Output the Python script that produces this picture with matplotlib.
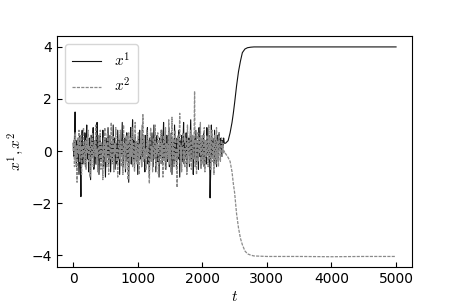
import numpy as np
import matplotlib
matplotlib.use("Agg")
import matplotlib.pyplot as plt

plt.rcParams["mathtext.fontset"] = "cm"

# noisy phase, sampled every 10 time units from 0 to 2340
t_noise = np.arange(0, 2350, 10)
x1_noise = [0.3, -0.2, 0.5, 1.5, 0.1, -0.6, 0.4, -0.3, 0.2, -0.9,
            0.6, -0.4, -1.75, 0.3, 0.8, -0.5, 0.2, -0.1, 0.7, -0.6,
            0.4, 1.0, -0.3, 0.1, -0.8, 0.5, 0.2, -1.1, 0.6, -0.2,
            0.3, 0.9, -0.7, 0.1, 0.4, -0.5, 0.2, 1.1, -0.3, 0.5,
            -0.9, 0.2, 0.6, -0.4, 0.3, -0.1, 0.8, -0.6, 0.4, 0.1,
            -1.0, 0.5, 0.3, -0.2, 0.9, -0.5, 0.1, 0.6, -0.8, 0.3,
            0.2, -0.4, 1.0, -0.1, 0.5, -0.7, 0.3, 0.1, -0.5, 0.8,
            -0.3, 0.4, -0.9, 0.6, 0.2, -0.2, 1.1, -0.6, 0.3, 0.0,
            0.5, -0.8, 0.2, 0.7, -0.4, 0.3, -1.2, 0.4, 0.1, 0.9,
            -0.5, 0.2, 1.2, -0.3, 0.4, -0.7, 0.6, 0.1, -0.4, 0.3,
            -0.9, 0.5, 0.2, 0.8, -0.3, 0.1, -0.6, 1.0, -0.2, 0.4,
            0.1, -0.8, 0.6, -0.1, 0.3, 0.9, -0.5, 0.2, -1.0, 0.5,
            0.3, -0.3, 0.7, 0.1, -0.6, 1.0, -0.2, 0.4, -0.8, 0.2,
            0.6, -0.4, 0.1, -1.0, 0.5, 0.3, -0.2, 0.8, -0.5, 0.2,
            1.1, -0.3, 0.4, -0.7, 0.2, 0.6, -0.4, 0.1, 0.9, -0.6,
            0.3, -0.2, 0.7, -0.9, 0.4, 0.1, -0.5, 1.0, -0.1, 0.3,
            -0.7, 0.5, 0.2, -0.3, 0.8, -1.0, 0.4, 0.1, 0.6, -0.4,
            0.2, 1.1, -0.5, 0.3, -0.2, 0.7, -0.8, 0.4, 0.0, 0.5,
            -0.6, 0.3, 1.2, -0.4, 0.2, 0.6, -0.9, 0.1, 0.5, -0.3,
            0.8, -0.5, 0.2, 0.4, -0.7, 0.9, -0.2, 0.3, -0.6, 0.1,
            0.5, -0.3, 0.7, -0.6, 0.2, 0.4, -0.5, 0.9, -0.1, 0.3,
            -0.4, 0.6, -1.8, -0.7, 1.0, -0.2, 0.5, 0.2, -0.5, 0.8,
            -0.3, 0.4, -0.6, 0.6, 0.2, -0.4, 0.7, 0.3, 0.1, 0.5,
            -0.2, 0.4, 0.2, 0.5, 0.3]
x2_noise = [0.0, 0.4, -0.6, 0.7, -0.3, 0.2, -1.2, 0.5, -0.1, 0.8,
            -0.4, 0.3, 0.6, -0.9, 0.2, -0.2, 0.9, -0.5, 0.1, 0.4,
            -0.7, 0.5, -0.1, 0.8, -0.4, 0.2, -1.0, 0.6, 0.3, -0.3,
            0.7, -0.6, 0.2, 0.4, -0.2, 1.0, -0.5, 0.1, -0.8, 0.6,
            0.2, -0.3, 0.8, -0.7, 0.3, 0.1, -1.1, 0.5, -0.2, 0.9,
            -0.4, 0.3, -0.6, 0.7, 0.0, -0.9, 0.5, 0.2, -0.3, 1.1,
            -0.5, 0.2, 0.6, -0.8, 0.3, -0.1, 0.9, -0.4, 0.1, -1.0,
            0.5, 0.2, -0.3, 0.8, -0.6, 0.4, 0.1, -0.9, 1.0, -0.2,
            0.3, -0.7, 0.6, -0.1, 0.4, -1.1, 0.7, 0.2, -0.4, 0.5,
            -0.2, 0.9, -0.6, 0.3, 0.1, -0.8, 1.1, -0.3, 0.4, -0.5,
            0.2, 0.7, -0.9, 0.3, -0.2, 0.5, -0.6, 0.2, 1.4, -0.4,
            0.6, -0.3, 0.1, -0.7, 0.8, -0.2, 0.4, -0.5, -1.25, 0.3,
            0.9, -0.4, 0.2, -0.8, 0.5, 0.1, -0.3, 1.0, -0.6, 0.3,
            -0.1, 0.7, -0.9, 0.4, 0.2, -0.5, 0.8, -0.2, 0.3, -1.0,
            0.6, 0.1, -0.4, 0.9, -0.7, 0.3, 0.2, -0.3, 1.2, -0.5,
            0.4, -0.8, 0.1, 1.3, -0.3, 0.5, -0.6, 0.2, 0.8, -0.4,
            0.1, -1.4, 0.6, -0.2, 0.3, 1.45, -0.5, 0.2, -0.8, 0.4,
            0.7, -0.3, 0.1, -0.6, 0.5, 0.2, -0.9, 1.0, -0.2, 0.4,
            -0.5, 0.3, 0.8, -0.7, 0.2, 0.6, -0.3, 0.1, 2.3, -0.6,
            0.4, -0.9, 0.2, 0.7, -0.4, 0.5, -0.1, 1.1, -0.7, 0.3,
            0.6, -0.5, 0.2, 0.9, -0.8, 0.4, -0.2, 0.6, 0.1, -0.6,
            1.0, -0.3, 0.5, -0.7, 0.2, 0.8, -0.4, 0.3, -0.9, 0.6,
            0.2, -0.5, 0.9, -0.3, 0.4, -0.6, 0.7, 0.1, -0.4, 0.3,
            0.5, -0.2, 0.3, -0.1, 0.0]

# separation phase
t_sep = [2360, 2400, 2430, 2460, 2480, 2500, 2530, 2560, 2590, 2620,
         2660, 2700, 2750, 2800, 2900, 3000, 3500, 4000, 4500, 5000]
x1_sep = [0.3, 0.4, 0.7, 1.1, 1.45, 1.85, 2.5, 3.05, 3.45, 3.78,
          3.92, 3.97, 3.99, 4.0, 4.0, 4.0, 4.0, 4.0, 4.0, 4.0]
x2_sep = [-0.1, -0.25, -0.4, -0.8, -1.25, -1.6, -2.4, -2.95, -3.35, -3.6,
          -3.84, -3.95, -4.0, -4.03, -4.04, -4.05, -4.05, -4.06, -4.05, -4.05]

t = np.concatenate([t_noise, t_sep])
x1 = np.concatenate([x1_noise, x1_sep])
x2 = np.concatenate([x2_noise, x2_sep])

fig = plt.figure(figsize=(4.58, 3.05), dpi=100)
ax = fig.add_axes([0.1245, 0.125, 0.7755, 0.757])
ax.plot(t, x1, color="#111111", lw=0.8, label=r"$x^1$")
ax.plot(t, x2, color="#8a8a8a", lw=0.9, ls="--", dashes=(2.5, 1), label=r"$x^2$")
ax.set_xlim(-250, 5250)
ax.set_ylim(-4.45, 4.42)
ax.set_xticks([0, 1000, 2000, 3000, 4000, 5000])
ax.set_yticks([-4, -2, 0, 2, 4])
ax.tick_params(direction="in", labelsize=10)
ax.set_xlabel(r"$t$", fontsize=11, labelpad=2)
ax.set_ylabel(r"$x^1, x^2$", fontsize=11)
ax.legend(loc="upper left", fontsize=11, handlelength=1.9, borderpad=0.5)
fig.savefig("out.png")
